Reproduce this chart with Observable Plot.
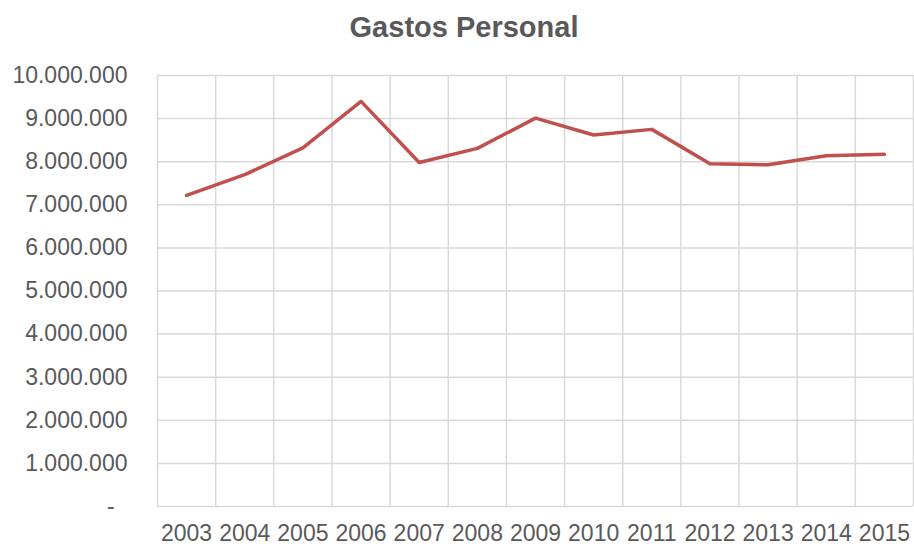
<!DOCTYPE html>
<html>
<head>
<meta charset="utf-8">
<script src="https://cdn.jsdelivr.net/npm/d3@7"></script>
<script src="https://cdn.jsdelivr.net/npm/@observablehq/plot@0.6"></script>
<style>
  html, body { margin: 0; padding: 0; background: #fff; }
  body { width: 914px; height: 544px; overflow: hidden; font-family: Arial, "Liberation Sans", sans-serif; }
  #title { height: 37.5px; padding-top: 12.5px; font-size: 29px; line-height: 29px; font-weight: bold; color: #595959; text-align: center; padding-left: 14px; }
  #chart svg { display: block; overflow: visible; }
</style>
</head>
<body>
<div id="title">Gastos Personal</div>
<div id="chart"></div>
<script>
const titleText = "Gastos Personal";
const years = [2003, 2004, 2005, 2006, 2007, 2008, 2009, 2010, 2011, 2012, 2013, 2014, 2015];
const gastos = [7220000, 7700000, 8320000, 9400000, 7980000, 8310000, 9010000, 8620000, 8750000, 7950000, 7930000, 8140000, 8170000];
const yTicks = [0, 1000000, 2000000, 3000000, 4000000, 5000000, 6000000, 7000000, 8000000, 9000000, 10000000];

const data = years.map((y, i) => ({year: y, value: gastos[i]}));
const boundaries = years.map(y => y - 0.5).concat([years[years.length - 1] + 0.5]);
const locale = d3.formatLocale({decimal: ",", thousands: ".", grouping: [3], currency: ["", ""]});
const fmt = locale.format(",");

const chart = Plot.plot({
  width: 914,
  height: 494,
  marginTop: 25,
  marginBottom: 38,
  marginLeft: 157,
  marginRight: 1,
  style: {fontFamily: "Arial, 'Liberation Sans', sans-serif", fontSize: "23px", color: "#595959", background: "#fff", overflow: "visible"},
  x: {domain: [years[0] - 0.5, years[years.length - 1] + 0.5]},
  y: {domain: [0, 10000000]},
  marks: [
    Plot.ruleY(yTicks, {stroke: "#d9d9d9", strokeWidth: 1.5}),
    Plot.ruleX(boundaries, {stroke: "#d9d9d9", strokeWidth: 1.5}),
    Plot.axisY(yTicks, {tickSize: 0, tickPadding: 30, tickFormat: d => d === 0 ? "-\u00a0\u00a0" : fmt(d), fill: "#595959", label: null}),
    Plot.axisX(years, {tickSize: 0, tickPadding: 18, tickFormat: d => String(d), fill: "#595959", label: null}),
    Plot.line(data, {x: "year", y: "value", stroke: "#C0504D", strokeWidth: 3.5, strokeLinejoin: "round"})
  ]
});
document.getElementById("chart").appendChild(chart);
</script>
</body>
</html>
